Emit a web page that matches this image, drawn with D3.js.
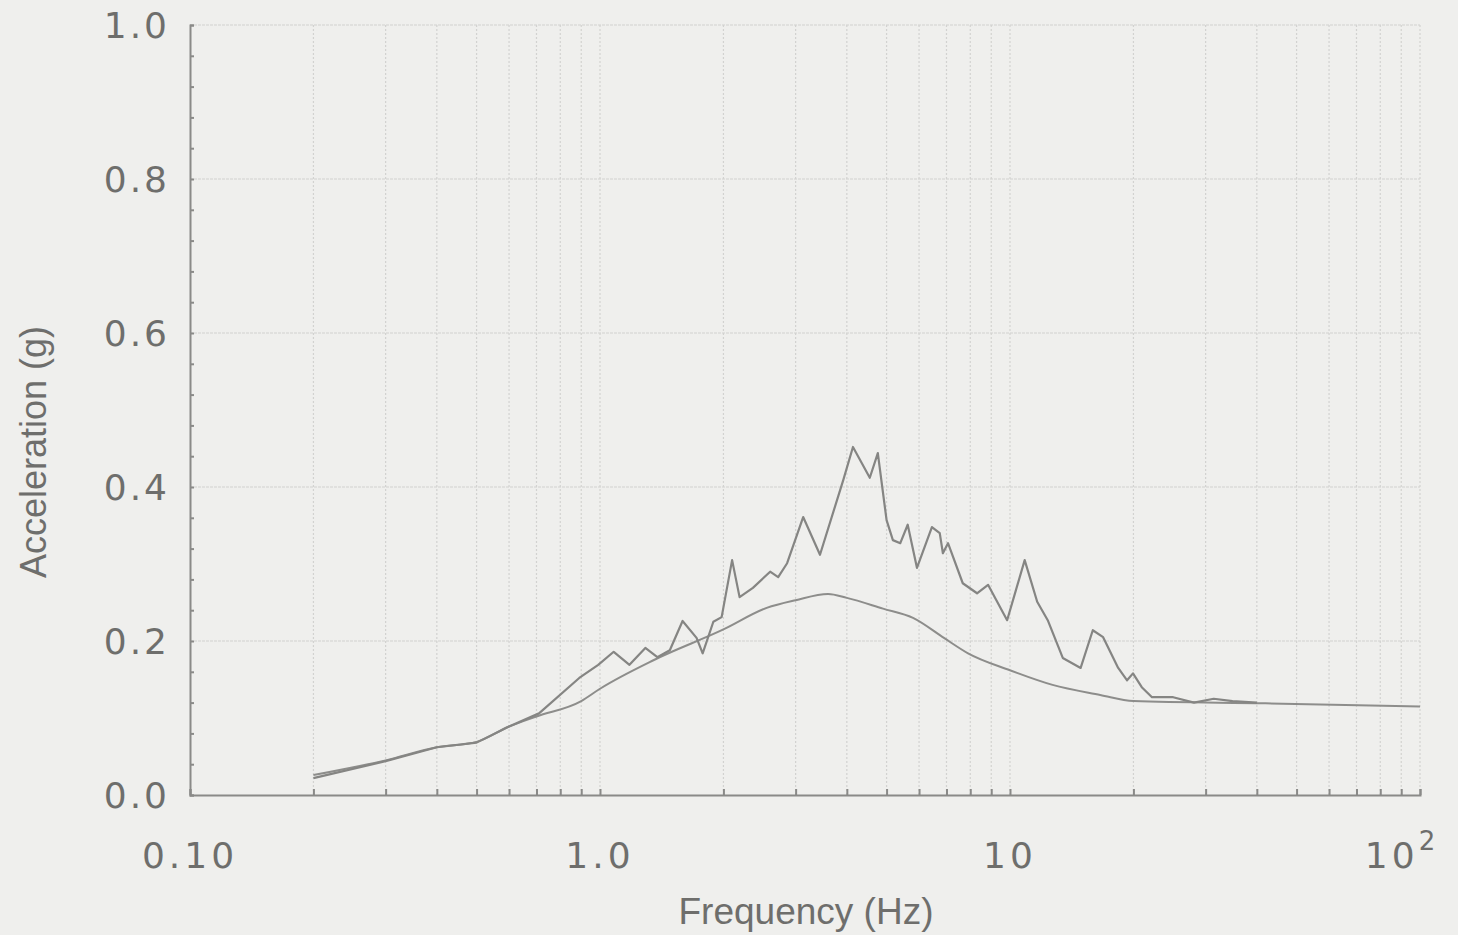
<!DOCTYPE html>
<html>
<head>
<meta charset="utf-8">
<script src="https://cdn.jsdelivr.net/npm/d3@7"></script>
<style>
  body { margin: 0; background: #efefed; }
  svg { display: block; }
</style>
</head>
<body>
<svg></svg>
<script>
// smooth (target) spectrum
const smoothFreq = [0.2, 0.3, 0.4, 0.5, 0.6, 0.7, 0.9, 1.0, 1.35, 2.0, 2.55, 3.0, 3.6, 4.0, 4.9, 5.8, 6.9, 7.9, 10, 12.7, 16.6, 20, 42, 100];
const smoothAcc  = [0.026, 0.045, 0.062, 0.069, 0.089, 0.102, 0.122, 0.138, 0.175, 0.215, 0.243, 0.253, 0.261, 0.256, 0.242, 0.230, 0.204, 0.184, 0.162, 0.143, 0.130, 0.122, 0.119, 0.115];

// jagged (computed) spectrum
const jagFreq = [0.2, 0.3, 0.4, 0.5, 0.6, 0.71, 0.89, 0.99, 1.08, 1.18, 1.29, 1.38, 1.48, 1.59, 1.72, 1.78, 1.89, 1.98,
  2.10, 2.19, 2.36, 2.60, 2.72, 2.86, 3.13, 3.44, 3.92, 4.14, 4.55, 4.76, 5.00, 5.18, 5.40, 5.63, 5.93, 6.45, 6.74, 6.86,
  7.06, 7.67, 8.31, 8.84, 9.84, 10.86, 11.65, 12.36, 13.45, 14.87, 15.92, 16.87, 18.36, 19.3, 19.95, 20.96, 22.2, 25.0,
  28.1, 31.4, 34.9, 40.0];
const jagAcc = [0.022, 0.044, 0.062, 0.068, 0.089, 0.106, 0.152, 0.169, 0.186, 0.169, 0.191, 0.179, 0.188, 0.226, 0.204, 0.184, 0.225, 0.231,
  0.305, 0.257, 0.269, 0.290, 0.283, 0.301, 0.361, 0.312, 0.409, 0.452, 0.412, 0.444, 0.357, 0.331, 0.327, 0.351, 0.295, 0.348, 0.340, 0.314,
  0.327, 0.275, 0.262, 0.273, 0.227, 0.305, 0.251, 0.227, 0.178, 0.165, 0.214, 0.205, 0.165, 0.149, 0.158, 0.140, 0.127, 0.127,
  0.120, 0.125, 0.122, 0.120];

const yTicks = [0.0, 0.2, 0.4, 0.6, 0.8, 1.0];
const xTickVals = [0.1, 1, 10, 100];
const xTickLabels = ["0.10", "1.0", "10", "10"];

const W = 1458, H = 935;
const svg = d3.select("svg").attr("width", W).attr("height", H);

const x = d3.scaleLog().domain([0.1, 100]).range([190, 1420]);
const y = d3.scaleLinear().domain([0, 1]).range([795, 25]);

const gridCol = "#d2d2d0", axisCol = "#8a8a88", textCol = "#6e6e6c";

// minor decade values
const minor = [];
[0.1, 1, 10].forEach(d => { for (let k = 1; k <= 9; k++) minor.push(d * k); });
minor.push(100);

// vertical gridlines (dotted)
svg.append("g").selectAll("line")
  .data(minor.filter(v => v > 0.1))
  .enter().append("line")
  .attr("x1", d => x(d)).attr("x2", d => x(d))
  .attr("y1", y(0)).attr("y2", y(1))
  .attr("stroke", gridCol)
  .attr("stroke-width", 1.2)
  .attr("stroke-dasharray", "2,2");

// horizontal gridlines
svg.append("g").selectAll("line")
  .data(yTicks.filter(v => v > 0))
  .enter().append("line")
  .attr("x1", x(0.1)).attr("x2", x(100))
  .attr("y1", d => y(d)).attr("y2", d => y(d))
  .attr("stroke", gridCol)
  .attr("stroke-width", 1.2)
  .attr("stroke-dasharray", "3,1");

// axes
const xAxis = svg.append("g")
  .attr("transform", `translate(0,${y(0)})`)
  .call(d3.axisTop(x).tickValues(minor).tickSize(6).tickFormat(""));
const yAxis = svg.append("g")
  .attr("transform", `translate(${x(0.1)},0)`)
  .call(d3.axisRight(y).tickValues(d3.range(0, 1.001, 0.04)).tickSize(4).tickFormat(""));
[xAxis, yAxis].forEach(g => {
  g.selectAll("path, line").attr("stroke", axisCol).attr("stroke-width", 2);
});

// y tick labels
svg.append("g").selectAll("text")
  .data(yTicks)
  .enter().append("text")
  .attr("x", 170)
  .attr("y", d => y(d) + 13)
  .attr("text-anchor", "end")
  .attr("font-family", "DejaVu Sans")
  .attr("font-size", 36)
  .attr("letter-spacing", 3)
  .attr("fill", textCol)
  .text(d => d.toFixed(1));

// x tick labels
const xl = svg.append("g").selectAll("text")
  .data(xTickVals)
  .enter().append("text")
  .attr("x", d => x(d))
  .attr("y", 868)
  .attr("text-anchor", "middle")
  .attr("font-family", "DejaVu Sans")
  .attr("font-size", 36)
  .attr("letter-spacing", 4)
  .attr("fill", textCol)
  .text((d, i) => xTickLabels[i]);
xl.filter(d => d === 100)
  .attr("x", x(100) - 18)
  .append("tspan")
  .attr("dy", -18)
  .attr("font-size", 26)
  .text("2");

// axis titles
svg.append("text")
  .attr("x", 806).attr("y", 924)
  .attr("text-anchor", "middle")
  .attr("font-family", "Liberation Sans")
  .attr("font-size", 37)
  .attr("fill", textCol)
  .text("Frequency (Hz)");
svg.append("text")
  .attr("transform", "translate(46,452) rotate(-90)")
  .attr("text-anchor", "middle")
  .attr("font-family", "Liberation Sans")
  .attr("font-size", 36)
  .attr("fill", textCol)
  .text("Acceleration (g)");

// curves
const smoothLine = d3.line().curve(d3.curveMonotoneX).x(d => x(d[0])).y(d => y(d[1]));
const line = d3.line().x(d => x(d[0])).y(d => y(d[1]));
svg.append("path")
  .datum(smoothFreq.map((f, i) => [f, smoothAcc[i]]))
  .attr("fill", "none")
  .attr("stroke", "#8d8d8b")
  .attr("stroke-width", 2)
  .attr("d", smoothLine);
svg.append("path")
  .datum(jagFreq.map((f, i) => [f, jagAcc[i]]))
  .attr("fill", "none")
  .attr("stroke", "#858583")
  .attr("stroke-width", 2.2)
  .attr("stroke-linejoin", "round")
  .attr("d", line);
</script>
</body>
</html>
